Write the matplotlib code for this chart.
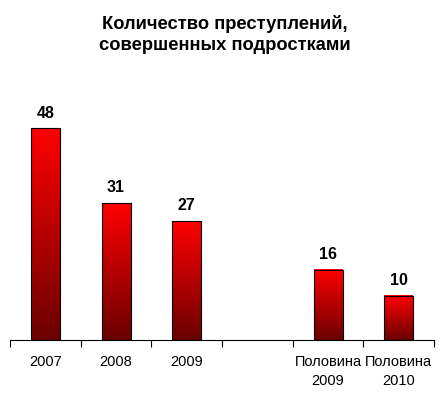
import numpy as np
import matplotlib
matplotlib.use("Agg")
import matplotlib.pyplot as plt
from matplotlib.colors import LinearSegmentedColormap

categories = ["2007", "2008", "2009", "", "Половина\n2009", "Половина\n2010"]
values = [48, 31, 27, None, 16, 10]

plt.rcParams['font.family'] = ['Liberation Sans', 'DejaVu Sans']

fig = plt.figure(figsize=(4.45, 4.01), dpi=100)
ax = fig.add_axes([0.0225, 0.152, 0.953, 0.599])

cmap = LinearSegmentedColormap.from_list("redgrad", ["#6a0000", "#ff0000"])
grad = np.linspace(0, 1, 256).reshape(-1, 1)
width = 0.41

for i, v in enumerate(values):
    if v is None:
        continue
    x0 = i - width / 2
    ax.imshow(grad, extent=[x0, x0 + width, 0, v], origin="lower", cmap=cmap,
              aspect="auto", zorder=2)
    ax.add_patch(plt.Rectangle((x0, 0), width, v, fill=False, edgecolor="black",
                               linewidth=0.8, zorder=3))
    ax.text(i, v + 1.8, str(v), ha="center", va="bottom", fontsize=11.5,
            fontweight="bold", color="black")

ax.set_xlim(-0.5, len(categories) - 0.5)
ax.set_ylim(0, 54.5)
ax.set_aspect("auto")

for s in ["top", "right", "left"]:
    ax.spines[s].set_visible(False)
ax.spines["bottom"].set_linewidth(0.8)
ax.set_yticks([])

ax.set_xticks(np.arange(-0.5, len(categories)), minor=False)
ax.set_xticklabels([])
ax.tick_params(axis="x", which="major", length=5, width=0.8, direction="out")
ax.set_xticks(np.arange(len(categories)), minor=True)
ax.set_xticklabels(categories, minor=True, fontsize=10.5, linespacing=1.45)
ax.tick_params(axis="x", which="minor", length=0, pad=11)

fig.text(0.506, 0.913, "Количество преступлений,\nсовершенных подростками",
         ha="center", va="center", fontsize=13.2, fontweight="bold",
         linespacing=1.3)

fig.savefig("out.png", dpi=100)
